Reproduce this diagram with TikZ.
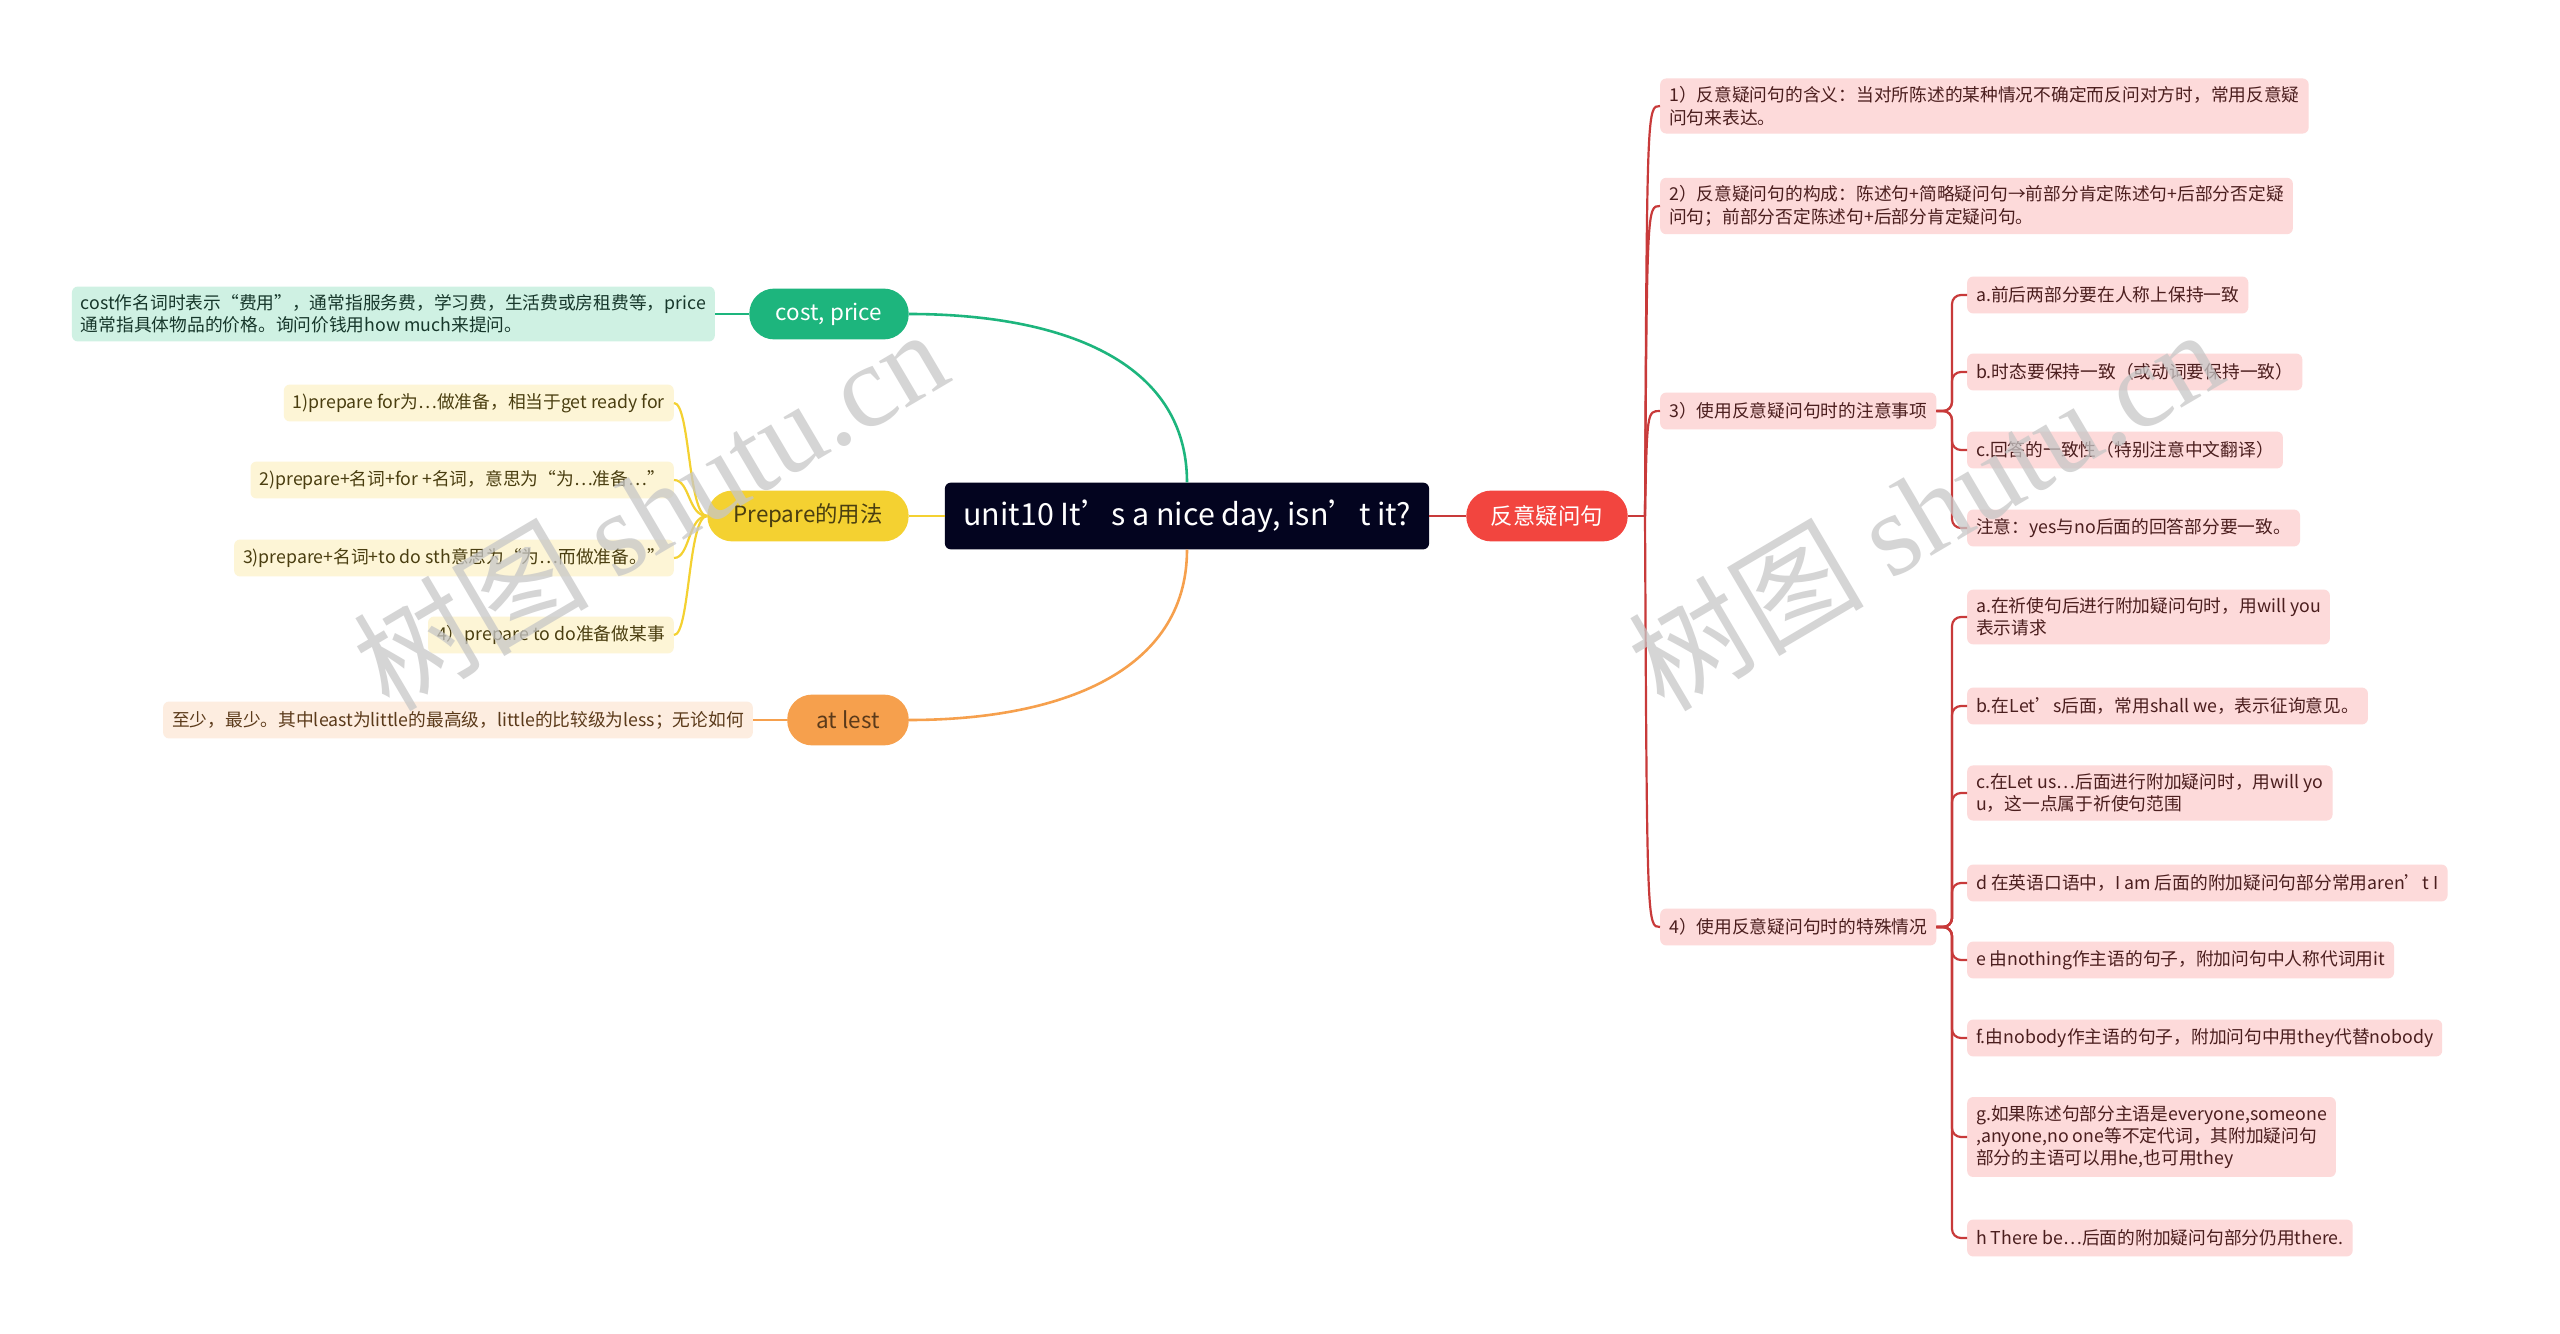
\documentclass[tikz,border=0pt]{standalone}
\usepackage{fontspec}
\setmainfont{Noto Sans CJK SC}
\newfontfamily\wmfont{Liberation Serif}
\definecolor{cnavy}{HTML}{03041F}
\definecolor{cred}{HTML}{F2453F}
\definecolor{credline}{HTML}{C83A3A}
\definecolor{cpink}{HTML}{FDDADA}
\definecolor{cpinktext}{HTML}{4B1E1E}
\definecolor{cgreen}{HTML}{1DB57D}
\definecolor{cgreenleaf}{HTML}{CFF1E3}
\definecolor{cgreentext}{HTML}{17372B}
\definecolor{cyellow}{HTML}{F4D131}
\definecolor{cyellowleaf}{HTML}{FDF5D6}
\definecolor{cyellowtext}{HTML}{4A3E10}
\definecolor{corange}{HTML}{F6A04D}
\definecolor{corangeleaf}{HTML}{FDEDE0}
\definecolor{corangetext}{HTML}{5B3A1A}
\tikzset{
  leafbase/.style={rounded corners=6, inner xsep=9, inner ysep=0, minimum height=37, align=left, font=\fontsize{17.8}{22.5}\selectfont},
  pinkleaf/.style={leafbase, fill=cpink, text=cpinktext},
  pinkmulti/.style={pinkleaf, inner ysep=8},
  greenleaf/.style={leafbase, fill=cgreenleaf, text=cgreentext, inner ysep=8},
  yellowleaf/.style={leafbase, fill=cyellowleaf, text=cyellowtext},
  orangeleaf/.style={leafbase, fill=corangeleaf, text=corangetext},
  mainnode/.style={rounded corners=25, minimum height=51, inner xsep=14, font=\fontsize{22.5}{26}\selectfont},
  redline/.style={draw=credline, line width=2.2},
  watermark/.style={rotate=30.5, text=black!22, opacity=0.75, font=\fontsize{118}{118}\selectfont}
}
\begin{document}
\begin{tikzpicture}[x=1bp, y=-1bp]
\useasboundingbox[fill=white] (0,0) rectangle (2560,1334);

% central
\node[fill=cnavy, text=white, rounded corners=6, minimum height=67, minimum width=486, inner xsep=12, font=\fontsize{30.5}{34}\selectfont] (c) at (1187,516) {unit10 It’s a nice day, isn’t it?};

% main branches
\node[mainnode, fill=cred, text=white, minimum width=162] (r) at (1547,516) {反意疑问句};
\node[mainnode, fill=cgreen, text=white, minimum width=160] (cost) at (829,314) {cost, price};
\node[mainnode, fill=cyellow, text=cyellowtext, minimum width=202] (prep) at (808,516) {Prepare的用法};
\node[mainnode, fill=corange, text=corangetext, minimum width=122] (atl) at (848,720) {at lest};

% left leaves
\node[greenleaf, anchor=east] (costleaf) at (715,314) {cost作名词时表示“费用”，通常指服务费，学习费，生活费或房租费等，price\\通常指具体物品的价格。询问价钱用how much来提问。};
\node[yellowleaf, anchor=east] (p1) at (674,403) {1)prepare for为…做准备，相当于get ready for};
\node[yellowleaf, anchor=east] (p2) at (674,480) {2)prepare+名词+for +名词，意思为“为…准备…”};
\node[yellowleaf, anchor=east] (p3) at (674,558) {3)prepare+名词+to do sth意思为“为…而做准备。”};
\node[yellowleaf, anchor=east] (p4) at (674,635) {4）prepare to do准备做某事};
\node[orangeleaf, anchor=east] (atlleaf) at (753,720) {至少，最少。其中least为little的最高级，little的比较级为less；无论如何};

% right level 2
\node[pinkmulti, anchor=west] (r1) at (1660,106) {1）反意疑问句的含义：当对所陈述的某种情况不确定而反问对方时，常用反意疑\\问句来表达。};
\node[pinkmulti, anchor=west] (r2) at (1660,206) {2）反意疑问句的构成：陈述句+简略疑问句→前部分肯定陈述句+后部分否定疑\\问句；前部分否定陈述句+后部分肯定疑问句。};
\node[pinkleaf, anchor=west] (r3) at (1660,411) {3）使用反意疑问句时的注意事项};
\node[pinkleaf, anchor=west] (r4) at (1660,927) {4）使用反意疑问句时的特殊情况};

% right level 3 under 3)
\node[pinkleaf, anchor=west] (r3a) at (1967,295) {a.前后两部分要在人称上保持一致};
\node[pinkleaf, anchor=west] (r3b) at (1967,372) {b.时态要保持一致（或动词要保持一致）};
\node[pinkleaf, anchor=west] (r3c) at (1967,450) {c.回答的一致性（特别注意中文翻译）};
\node[pinkleaf, anchor=west] (r3d) at (1967,528) {注意：yes与no后面的回答部分要一致。};

% right level 3 under 4)
\node[pinkmulti, anchor=west] (r4a) at (1967,617) {a.在祈使句后进行附加疑问句时，用will you\\表示请求};
\node[pinkleaf, anchor=west] (r4b) at (1967,706) {b.在Let’s后面，常用shall we，表示征询意见。};
\node[pinkmulti, anchor=west] (r4c) at (1967,793) {c.在Let us…后面进行附加疑问时，用will yo\\u，这一点属于祈使句范围};
\node[pinkleaf, anchor=west] (r4d) at (1967,883) {d 在英语口语中，I am 后面的附加疑问句部分常用aren’t I};
\node[pinkleaf, anchor=west] (r4e) at (1967,960) {e 由nothing作主语的句子，附加问句中人称代词用it};
\node[pinkleaf, anchor=west] (r4f) at (1967,1038) {f.由nobody作主语的句子，附加问句中用they代替nobody};
\node[pinkmulti, anchor=west] (r4g) at (1967,1137) {g.如果陈述句部分主语是everyone,someone\\,anyone,no one等不定代词，其附加疑问句\\部分的主语可以用he,也可用they};
\node[pinkleaf, anchor=west] (r4h) at (1967,1238) {h There be…后面的附加疑问句部分仍用there.};

% connectors: center to main branches
\draw[cgreen, line width=2.6] (c.north) .. controls (1187,360) and (1060,314) .. (cost.east);
\draw[corange, line width=2.6] (c.south) .. controls (1187,672) and (1060,720) .. (atl.east);
\draw[cyellow, line width=2.6] (c.west) -- (prep.east);
\draw[redline, line width=2.6] (c.east) -- (r.west);

% left leaves connectors
\draw[cgreen, line width=2.2] (costleaf.east) -- (cost.west);
\draw[corange, line width=2.2] (atlleaf.east) -- (atl.west);
\foreach \n in {p1,p2,p3,p4}
  \draw[cyellow, line width=2.2] (prep.west) .. controls (688,516) and (690,0 |- \n.east) .. (\n.east);

% right level 2 connectors
\coordinate (rj) at (1645,516);
\draw[redline] (r.east) -- (rj);
\foreach \n in {r1,r2,r3,r4}
  \draw[redline] (rj) .. controls (1647,0 |- \n.west) .. (\n.west);

% right level 3 connectors
\foreach \n in {r3a,r3b,r3c,r3d}
  \draw[redline, rounded corners=9] (r3.east) -- (1952,0 |- r3.east) -- (1952,0 |- \n.west) -- (\n.west);
\foreach \n in {r4a,r4b,r4c,r4d,r4e,r4f,r4g,r4h}
  \draw[redline, rounded corners=9] (r4.east) -- (1952,0 |- r4.east) -- (1952,0 |- \n.west) -- (\n.west);

% watermarks
\node[watermark] (wm1) at (650,508) {树图 {\wmfont shutu.cn}};
\node[watermark] (wm2) at (1925,508) {树图 {\wmfont shutu.cn}};
\end{tikzpicture}
\end{document}
